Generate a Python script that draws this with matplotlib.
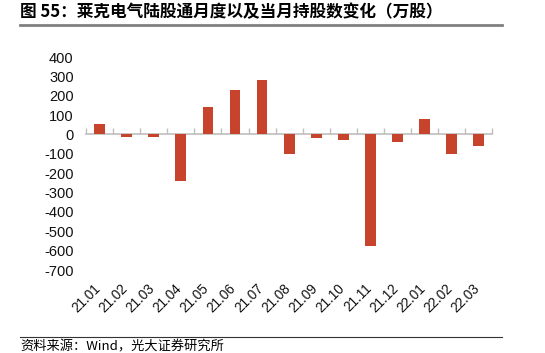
import numpy as np
import matplotlib
matplotlib.use("Agg")
import matplotlib.pyplot as plt
from matplotlib.lines import Line2D
from matplotlib.transforms import blended_transform_factory, offset_copy

plt.rcParams['font.family'] = ['Liberation Sans', 'Noto Sans CJK SC', 'DejaVu Sans']
plt.rcParams['axes.unicode_minus'] = False

# data (万股)
months = ["21.01", "21.02", "21.03", "21.04", "21.05", "21.06", "21.07", "21.08",
          "21.09", "21.10", "21.11", "21.12", "22.01", "22.02", "22.03"]
change = [55, -12, -12, -240, 143, 228, 283, -102, -18, -28, -575, -38, 82, -100, -58]
yticks = [-700, -600, -500, -400, -300, -200, -100, 0, 100, 200, 300, 400]

title = "图 55：莱克电气陆股通月度以及当月持股数变化（万股）"
source = "资料来源：Wind，光大证券研究所"

BAR = "#C8432B"
GRID = "#BFBFBF"

fig = plt.figure(figsize=(5.45, 3.53), dpi=100)
ax = fig.add_axes([0.158, 0.235, 0.745, 0.6035])

x = np.arange(len(months))
ax.bar(x, change, width=0.4, color=BAR, zorder=3)

ax.set_xlim(-0.5, len(months) - 0.5)
ax.set_ylim(yticks[0], yticks[-1])
ax.set_yticks(yticks)
ax.tick_params(axis='y', length=0, pad=9, labelsize=10.5, labelcolor='#111111')

# zero line with category boundary ticks
for s in ['top', 'right', 'left']:
    ax.spines[s].set_visible(False)
ax.spines['bottom'].set_position(('data', 0))
ax.spines['bottom'].set_color(GRID)
ax.spines['bottom'].set_linewidth(1.2)
ax.set_xticks(np.arange(-0.5, len(months)))
ax.tick_params(axis='x', direction='in', length=4, width=1, color=GRID,
               labelbottom=False)

# category labels sit below the plot
trans = blended_transform_factory(ax.transData, ax.transAxes)
trans = offset_copy(trans, fig=fig, x=-1, y=-16, units='dots')
for xi, lab in zip(x, months):
    ax.text(xi, 0, lab, transform=trans, rotation=45, ha='right', va='center',
            rotation_mode='anchor', fontsize=9.8, color='#111111')

# title, rules and source
fig.text(0.037, 0.966, title, fontsize=12, fontweight='bold',
         family=['Noto Sans CJK SC', 'DejaVu Sans'], va='center', ha='left')
fig.add_artist(Line2D([0.037, 0.921], [0.929, 0.929], color='#808080', lw=2,
                      transform=fig.transFigure))
fig.add_artist(Line2D([0.037, 0.921], [0.045, 0.045], color='#333333', lw=0.8,
                      transform=fig.transFigure))
fig.text(0.037, 0.016, source, fontsize=9.5,
         family=['Noto Sans CJK SC', 'DejaVu Sans'], va='center', ha='left')

fig.savefig("out.png", dpi=100)
